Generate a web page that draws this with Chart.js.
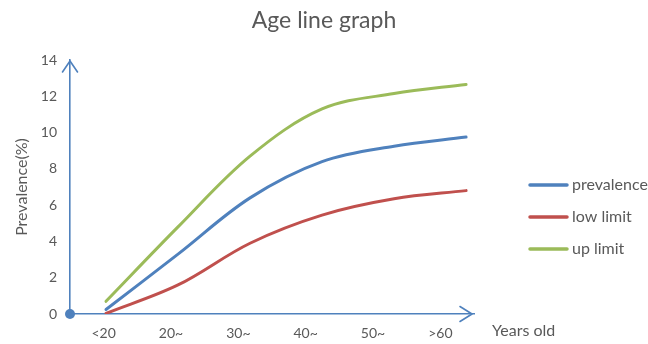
<!DOCTYPE html>
<html>
<head>
<meta charset="utf-8">
<script src="https://cdn.jsdelivr.net/npm/chart.js@4/dist/chart.umd.min.js"></script>
<style>
  html, body { margin: 0; padding: 0; background: #ffffff; }
  #wrap { width: 648px; height: 344px; position: relative; }
</style>
</head>
<body>
<div id="wrap"><canvas id="chart" width="648" height="344"></canvas></div>
<script>
// Age groups along the x axis
const ageGroups = ['<20', '20~', '30~', '40~', '50~', '>60'];

// Prevalence (%) per age group, with lower and upper limits
const prevalence = [0.25, 3.3, 6.4, 8.4, 9.25, 9.75];
const lowLimit   = [0.03, 1.6, 3.9, 5.45, 6.35, 6.8];
const upLimit    = [0.7, 4.8, 8.7, 11.3, 12.15, 12.65];

// Y axis tick range
const yTicks = [0, 2, 4, 6, 8, 10, 12, 14];

const seriesNames  = ['prevalence', 'low limit', 'up limit'];
const seriesColors = ['#4f81bd', '#c0504d', '#9bbb59'];

const textGray = '#595959';
const axisBlue = '#4f81bd';
const fontFamily = 'Lato, "Liberation Sans", sans-serif';

function toPoints(values) {
  return values.map((v, i) => ({ x: i, y: v }));
}

// Arrowheads on both axes, a dot at the origin, the x-axis caption and the legend
const axisDecor = {
  id: 'axisDecor',
  afterDraw(chart) {
    const { ctx, chartArea } = chart;
    const { left, right, top, bottom } = chartArea;
    ctx.save();
    ctx.strokeStyle = axisBlue;
    ctx.lineWidth = 1.6;
    ctx.lineCap = 'round';
    ctx.lineJoin = 'round';
    // up arrow on the y axis
    ctx.beginPath();
    ctx.moveTo(left - 7.5, top + 12);
    ctx.lineTo(left, top + 1);
    ctx.lineTo(left + 7.5, top + 12);
    ctx.stroke();
    // right arrow on the x axis
    ctx.beginPath();
    ctx.moveTo(right - 14, bottom - 7.5);
    ctx.lineTo(right - 2, bottom);
    ctx.lineTo(right - 14, bottom + 7.5);
    ctx.stroke();
    // origin dot
    ctx.fillStyle = axisBlue;
    ctx.beginPath();
    ctx.arc(left, bottom, 5, 0, Math.PI * 2);
    ctx.fill();

    // x-axis caption
    ctx.fillStyle = textGray;
    ctx.font = '16px ' + fontFamily;
    ctx.textAlign = 'left';
    ctx.textBaseline = 'middle';
    ctx.fillText('Years old', right + 18, bottom + 17);

    // legend
    const lx = right + 56;
    chart.data.datasets.forEach((ds, i) => {
      const y = 185 + i * 32;
      ctx.strokeStyle = ds.borderColor;
      ctx.lineWidth = 3.5;
      ctx.lineCap = 'round';
      ctx.beginPath();
      ctx.moveTo(lx, y);
      ctx.lineTo(lx + 37, y);
      ctx.stroke();
      ctx.fillStyle = textGray;
      ctx.font = '16px ' + fontFamily;
      ctx.fillText(ds.label, lx + 42, y);
    });
    ctx.restore();
  }
};

const datasets = [prevalence, lowLimit, upLimit].map((vals, i) => ({
  label: seriesNames[i],
  data: toPoints(vals),
  borderColor: seriesColors[i],
  backgroundColor: seriesColors[i],
  borderWidth: 3,
  borderCapStyle: 'round',
  pointRadius: 0,
  tension: 0.35,
  xAxisID: 'xd'
}));

new Chart(document.getElementById('chart'), {
  type: 'line',
  data: { labels: ageGroups, datasets },
  options: {
    responsive: false,
    animation: false,
    layout: { padding: 0 },
    plugins: {
      legend: { display: false },
      tooltip: { enabled: false },
      title: {
        display: true,
        text: 'Age line graph',
        color: textGray,
        font: { family: fontFamily, size: 23, weight: 'normal' },
        padding: { top: 7, bottom: 25.4 }
      }
    },
    scales: {
      x: {
        type: 'category',
        labels: ageGroups,
        offset: true,
        grid: { display: false, drawTicks: false },
        border: { display: true, color: axisBlue, width: 1.6 },
        ticks: {
          color: textGray,
          font: { family: fontFamily, size: 14 },
          padding: 11,
          maxRotation: 0,
          autoSkip: false
        },
        afterFit(scale) { scale.height = 30; }
      },
      xd: {
        type: 'linear',
        display: false,
        position: 'bottom',
        min: -0.5,
        max: 5.11
      },
      y: {
        type: 'linear',
        min: yTicks[0],
        max: yTicks[yTicks.length - 1],
        afterBuildTicks(scale) { scale.ticks = yTicks.map(v => ({ value: v })); },
        grid: { display: false, drawTicks: false },
        border: { display: true, color: axisBlue, width: 1.6 },
        ticks: {
          color: textGray,
          font: { family: fontFamily, size: 14 },
          padding: 13
        },
        title: {
          display: true,
          text: 'Prevalence(%)',
          color: textGray,
          font: { family: fontFamily, size: 16 },
          padding: { top: 12, bottom: 0 }
        },
        afterFit(scale) { scale.width = 70; }
      },
      // empty right-hand band that holds the caption and legend
      side: {
        type: 'linear',
        position: 'right',
        display: false,
        afterFit(scale) { scale.width = 174; }
      }
    }
  },
  plugins: [axisDecor]
});
</script>
</body>
</html>
